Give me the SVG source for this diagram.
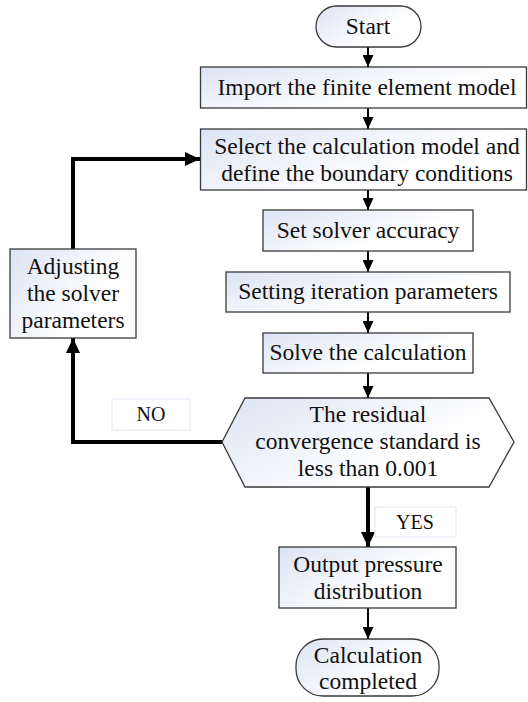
<svg xmlns="http://www.w3.org/2000/svg" width="528" height="702" viewBox="0 0 528 702">
  <style>
    .box { fill: url(#g); stroke: #3a3a3a; stroke-width: 1.3; }
    .lbl { fill: #ffffff; stroke: #e4e9f3; stroke-width: 1.2; }
    .t { font-family: "Liberation Serif", "Times New Roman", serif; font-size: 23.5px; fill: #111111; text-anchor: middle; }
    .ts { font-family: "Liberation Serif", "Times New Roman", serif; font-size: 20px; fill: #111111; text-anchor: middle; }
    .c { fill: none; stroke: #000000; stroke-width: 2; }
    .ck { fill: none; stroke: #000000; stroke-width: 4; }
  </style>
  <defs>
    <linearGradient id="g" x1="0" y1="0" x2="1" y2="0.6">
      <stop offset="0" stop-color="#dce3f3"/>
      <stop offset="0.75" stop-color="#ffffff"/>
      <stop offset="1" stop-color="#ffffff"/>
    </linearGradient>
    <marker id="a" markerUnits="userSpaceOnUse" markerWidth="12" markerHeight="11" refX="12" refY="5.5" orient="auto">
      <path d="M0,0 L12,5.5 L0,11 z" fill="#000000"/>
    </marker>
    <marker id="ak" markerUnits="userSpaceOnUse" markerWidth="15" markerHeight="14" refX="15" refY="7" orient="auto">
      <path d="M0,0 L15,7 L0,14 z" fill="#000000"/>
    </marker>
  </defs>

  <g id="connectors">
    <line class="c" x1="368" y1="47" x2="368" y2="67" marker-end="url(#a)"/>
    <line class="c" x1="368" y1="108" x2="368" y2="129" marker-end="url(#a)"/>
    <line class="c" x1="368" y1="190" x2="368" y2="210" marker-end="url(#a)"/>
    <line class="c" x1="368" y1="251" x2="368" y2="272" marker-end="url(#a)"/>
    <line class="c" x1="368" y1="312" x2="368" y2="333" marker-end="url(#a)"/>
    <line class="c" x1="368" y1="373" x2="368" y2="398" marker-end="url(#a)"/>
    <line class="ck" x1="368" y1="487" x2="368" y2="547" marker-end="url(#ak)"/>
    <line class="c" x1="368" y1="608" x2="368" y2="639" marker-end="url(#a)"/>
    <polyline class="ck" points="222,442 73,442 73,338" marker-end="url(#ak)"/>
    <polyline class="ck" points="73,249 73,159 200,159" marker-end="url(#ak)"/>
  </g>

  <g id="start">
    <rect class="box" x="316" y="6" width="105" height="41" rx="20.5" ry="20.5"/>
    <text class="t" x="368" y="34">Start</text>
  </g>

  <g id="import">
    <rect class="box" x="200.5" y="67" width="326" height="41"/>
    <text class="t" x="367" y="95">Import the finite element model</text>
  </g>

  <g id="select">
    <rect class="box" x="200.5" y="129" width="326" height="61"/>
    <text class="t" x="367" y="154">Select the calculation model and</text>
    <text class="t" x="367" y="181">define the boundary conditions</text>
  </g>

  <g id="accuracy">
    <rect class="box" x="263" y="210" width="210" height="41"/>
    <text class="t" x="368" y="238">Set solver accuracy</text>
  </g>

  <g id="iteration">
    <rect class="box" x="226" y="272" width="284" height="40"/>
    <text class="t" x="368" y="299">Setting iteration parameters</text>
  </g>

  <g id="solve">
    <rect class="box" x="263" y="333" width="210" height="40"/>
    <text class="t" x="368" y="360">Solve the calculation</text>
  </g>

  <g id="decision">
    <polygon class="box" points="222,442 245,398 489,398 514,442 489,487 245,487"/>
    <text class="t" x="368" y="422">The residual</text>
    <text class="t" x="368" y="449">convergence standard is</text>
    <text class="t" x="368" y="476">less than 0.001</text>
  </g>

  <g id="adjust">
    <rect class="box" x="10" y="249" width="126" height="89"/>
    <text class="t" x="73" y="274">Adjusting</text>
    <text class="t" x="73" y="301">the solver</text>
    <text class="t" x="73" y="328">parameters</text>
  </g>

  <g id="no-label">
    <rect class="lbl" x="112" y="399" width="78" height="31"/>
    <text class="ts" x="151" y="421">NO</text>
  </g>

  <g id="yes-label">
    <rect class="lbl" x="375" y="507" width="81" height="30"/>
    <text class="ts" x="415" y="529">YES</text>
  </g>

  <g id="output">
    <rect class="box" x="279" y="547" width="177" height="61"/>
    <text class="t" x="368" y="572">Output pressure</text>
    <text class="t" x="368" y="599">distribution</text>
  </g>

  <g id="end">
    <rect class="box" x="296" y="639" width="143" height="57" rx="27" ry="27"/>
    <text class="t" x="368" y="663">Calculation</text>
    <text class="t" x="368" y="689">completed</text>
  </g>
</svg>
